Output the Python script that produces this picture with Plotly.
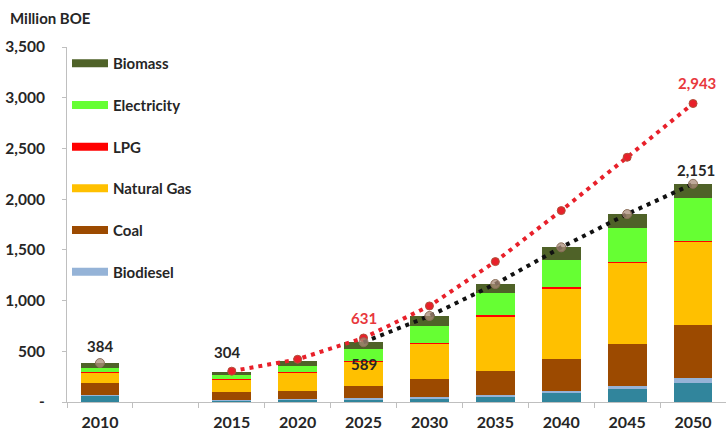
import plotly.graph_objects as go

# Final energy demand by source, million BOE
years = ["2010", "2015", "2020", "2025", "2030", "2035", "2040", "2045", "2050"]
oil = [62, 14, 20, 27, 36, 59, 85, 125, 185]
biodiesel = [3, 6, 7, 9, 16, 10, 23, 33, 48]
coal = [122, 75, 84, 122, 172, 237, 316, 411, 526]
natural_gas = [105, 130, 176, 240, 355, 540, 697, 805, 822]
lpg = [3, 5, 6, 6, 6, 8, 10, 10, 10]
electricity = [44, 40, 59, 119, 168, 222, 269, 335, 417]
biomass = [45, 26, 56, 66, 95, 87, 125, 134, 143]

# Projected totals: scenario line (red) and stacked total line (black)
scenario_total = [None, 304, 421, 631, 947, 1384, 1887, 2413, 2943]
stack_total = [384, None, None, 589, 848, 1163, 1525, 1853, 2151]

y_ticks = [0, 500, 1000, 1500, 2000, 2500, 3000, 3500]

# Category axis with an empty slot between 2010 and 2015
axis_categories = [years[0], " "] + years[1:]

FONT = "Lato"
DARK = "#262626"
RED_TXT = "#E8383D"

series = [
    ("Oil", oil, "#31859C", False),
    ("Biodiesel", biodiesel, "#95B3D7", True),
    ("Coal", coal, "#9C4A00", True),
    ("Natural Gas", natural_gas, "#FFC000", True),
    ("LPG", lpg, "#FF0000", True),
    ("Electricity", electricity, "#66FF33", True),
    ("Biomass", biomass, "#4F6228", True),
]

fig = go.Figure()

for name, vals, color, _ in series:
    fig.add_trace(go.Bar(
        x=years, y=vals, name=name, marker=dict(color=color, line=dict(width=0)),
        showlegend=False, hoverinfo="name+y",
    ))

# Legend entries drawn as wide swatches, top to bottom
for name, vals, color, in_legend in reversed(series):
    if not in_legend:
        continue
    fig.add_trace(go.Scatter(
        x=[None], y=[None], mode="lines", name=name, legendgroup=name,
        line=dict(color=color, width=8),
    ))

fig.add_trace(go.Scatter(
    x=years, y=scenario_total, mode="lines+markers", showlegend=False,
    line=dict(color="#E8202A", width=4, dash="4px,5px"),
    marker=dict(color="#E8202A", size=8, line=dict(color="#B0503A", width=1)),
))

fig.add_trace(go.Scatter(
    x=years, y=stack_total, mode="lines+markers", showlegend=False, connectgaps=False,
    line=dict(color="#111111", width=4, dash="4px,5px"),
    marker=dict(color="rgba(170,140,120,0.75)", size=9, line=dict(color="#8B6F5A", width=1)),
))


def fmt(v):
    return f"{v:,.0f}"


labels = [
    ("2010", stack_total[0], DARK, 0, 17),
    ("2015", scenario_total[1], DARK, -5, 19),
    ("2025", scenario_total[3], RED_TXT, 0, 20),
    ("2025", stack_total[3], DARK, 0, -22),
    ("2050", stack_total[8], DARK, 3, 14),
    ("2050", scenario_total[8], RED_TXT, 4, 21),
]
for year, v, color, dx, dy in labels:
    fig.add_annotation(
        x=axis_categories.index(year), y=v, xref="x", yref="y",
        text=fmt(v), showarrow=False, xshift=dx, yshift=dy,
        font=dict(family=FONT, size=15, color=color, weight="bold"),
    )

fig.add_annotation(
    xref="paper", yref="paper", x=-0.0895, y=1.0817, xanchor="left", yanchor="middle",
    text="Million BOE", showarrow=False,
    font=dict(family=FONT, size=15, color=DARK, weight="bold"),
)

fig.update_layout(
    width=726, height=431,
    margin=dict(l=67, r=0, t=47, b=29),
    barmode="stack", bargap=0.41,
    plot_bgcolor="white", paper_bgcolor="white",
    font=dict(family=FONT, color=DARK),
    legend=dict(
        x=0.0, y=1.0, xanchor="left", yanchor="top",
        traceorder="grouped", tracegroupgap=19.2, itemwidth=36,
        bgcolor="rgba(0,0,0,0)",
        font=dict(family=FONT, size=15, color=DARK, weight="bold"),
    ),
    xaxis=dict(
        type="category", categoryorder="array", categoryarray=axis_categories,
        range=[-0.5, len(axis_categories) - 0.5],
        showline=True, linecolor="#BFBFBF", linewidth=1,
        ticks="outside", tickson="boundaries", ticklen=5, tickcolor="#BFBFBF",
        ticklabelstandoff=6,
        showgrid=False, zeroline=False,
        tickfont=dict(family=FONT, size=16, color=DARK, weight="bold"),
    ),
    yaxis=dict(
        range=[0, 3500], tickvals=y_ticks,
        ticktext=["-" if t == 0 else fmt(t) for t in y_ticks],
        showline=True, linecolor="#BFBFBF", linewidth=1,
        ticks="outside", ticklen=4, tickcolor="#BFBFBF",
        ticklabelstandoff=14,
        showgrid=False, zeroline=False,
        tickfont=dict(family=FONT, size=15.5, color=DARK, weight="bold"),
    ),
)

fig.write_html("out.html")
